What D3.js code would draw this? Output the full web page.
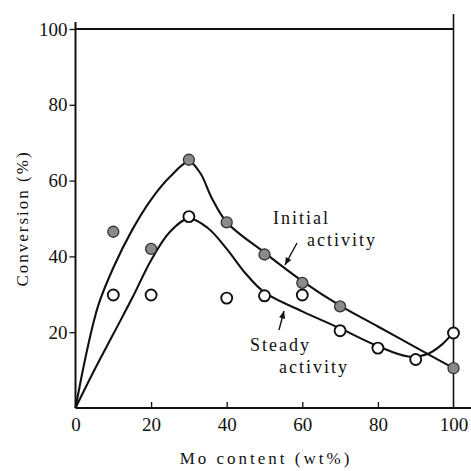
<!DOCTYPE html>
<html>
<head>
<meta charset="utf-8">
<script src="https://cdn.jsdelivr.net/npm/d3@7"></script>
</head>
<body style="margin:0">
<svg id="fig" width="471" height="471"></svg>
<script>
// measured points
const moContent   = [10, 20, 30, 40, 50, 60, 70, 80, 90, 100];
const initialPts  = [[10, 46.5], [20, 42], [30, 65.5], [40, 49], [50, 40.5], [60, 33], [70, 26.8], [100, 10.5]];
const steadyPts   = [[10, 29.8], [20, 29.8], [30, 50.5], [40, 29], [50, 29.6], [60, 29.8], [70, 20.4], [80, 15.8], [90, 12.8], [100, 19.8]];

// fitted curves (knots)
const initialCurve = [[0, 0], [3, 15], [6, 27], [10, 37], [15, 47], [20, 55], [25, 61], [30, 65], [33, 62], [36, 55.5], [40, 49], [50, 41], [60, 33.5], [70, 27], [80, 21.5], [90, 16], [100, 10.5]];
const steadyCurve  = [[0, 0], [5, 10], [10, 19.5], [15, 29], [20, 39], [25, 46.5], [30, 50], [35, 47.5], [40, 42], [45, 35.5], [50, 30.5], [60, 25.5], [70, 21], [80, 16.3], [88, 13.6], [93, 14.2], [97, 16.8], [100, 20]];

const xTicks = [0, 20, 40, 60, 80, 100];
const yTicks = [20, 40, 60, 80, 100];

const FONT = 'Liberation Serif';
const ink = '#111';

const svg = d3.select('#fig');
const x = d3.scaleLinear().domain([0, 100]).range([75.5, 453.5]);
const y = d3.scaleLinear().domain([0, 100]).range([408, 29]);

const serif = sel => sel.attr('font-family', FONT).style('font-family', FONT, 'important');

// ---- frame ----
svg.append('line').attr('x1', x(0)).attr('x2', x(0)).attr('y1', 22).attr('y2', y(0))
  .attr('stroke', ink).attr('stroke-width', 2);
svg.append('line').attr('x1', x(0)).attr('x2', 471).attr('y1', y(0)).attr('y2', y(0))
  .attr('stroke', ink).attr('stroke-width', 2);
svg.append('line').attr('x1', x(0)).attr('x2', x(100)).attr('y1', y(100)).attr('y2', y(100))
  .attr('stroke', ink).attr('stroke-width', 2);
svg.append('line').attr('x1', x(100)).attr('x2', x(100)).attr('y1', 14).attr('y2', y(0))
  .attr('stroke', ink).attr('stroke-width', 1.6);

// ---- y axis ticks ----
const yAxis = svg.append('g').attr('transform', `translate(${x(0)},0)`)
  .call(d3.axisLeft(y).tickValues(yTicks).tickSize(6).tickPadding(2).tickFormat(d3.format('d')));
yAxis.select('.domain').remove();
yAxis.selectAll('.tick line').attr('stroke', ink).attr('stroke-width', 1.3);
yAxis.selectAll('.tick text').attr('fill', ink).attr('font-size', 19).call(serif);

// ---- x axis ticks (inside) ----
const xAxis = svg.append('g').attr('transform', `translate(0,${y(0)})`)
  .call(d3.axisBottom(x).tickValues(xTicks).tickSizeInner(-6).tickSizeOuter(0).tickPadding(10).tickFormat(d3.format('d')));
xAxis.select('.domain').remove();
xAxis.selectAll('.tick line').attr('stroke', ink).attr('stroke-width', 1.3)
  .filter(d => d === 0 || d === 100).remove();
xAxis.selectAll('.tick text').attr('fill', ink).attr('font-size', 19).call(serif);

// ---- axis titles ----
svg.append('text')
  .attr('transform', `translate(28,${y(50)}) rotate(-90)`)
  .attr('text-anchor', 'middle')
  .attr('font-size', 17).attr('letter-spacing', 2)
  .attr('fill', ink).call(serif)
  .text('Conversion (%)');
svg.append('text')
  .attr('x', 266).attr('y', 464)
  .attr('text-anchor', 'middle')
  .attr('font-size', 17).attr('letter-spacing', 3)
  .attr('fill', ink).call(serif)
  .text('Mo content (wt%)');

// ---- curves ----
const line = d3.line().x(d => x(d[0])).y(d => y(d[1])).curve(d3.curveCatmullRom.alpha(0.5));
[initialCurve, steadyCurve].forEach(c => {
  svg.append('path').attr('d', line(c)).attr('fill', 'none')
    .attr('stroke', ink).attr('stroke-width', 2.1);
});

// ---- markers ----
svg.append('g').selectAll('circle').data(steadyPts).join('circle')
  .attr('cx', d => x(d[0])).attr('cy', d => y(d[1])).attr('r', 5.5)
  .attr('fill', '#fff').attr('stroke', ink).attr('stroke-width', 1.9);
svg.append('g').selectAll('circle').data(initialPts).join('circle')
  .attr('cx', d => x(d[0])).attr('cy', d => y(d[1])).attr('r', 5.5)
  .attr('fill', '#8a8a8a').attr('stroke', '#333').attr('stroke-width', 1.3);

// ---- annotations ----
const note = (txt, tx, ty) => svg.append('text').attr('x', tx).attr('y', ty)
  .attr('font-size', 18).attr('letter-spacing', 2)
  .attr('fill', ink).call(serif).text(txt);
note('Initial', 273, 224);
note('activity', 307, 246);
note('Steady', 250, 351);
note('activity', 279, 373);

const arrow = (x1, y1, x2, y2) => {
  svg.append('line').attr('x1', x1).attr('y1', y1).attr('x2', x2).attr('y2', y2)
    .attr('stroke', ink).attr('stroke-width', 1.4);
  const a = Math.atan2(y2 - y1, x2 - x1), L = 8, w = 0.4;
  svg.append('path')
    .attr('d', `M${x2},${y2}L${x2 - L * Math.cos(a - w)},${y2 - L * Math.sin(a - w)}L${x2 - L * Math.cos(a + w)},${y2 - L * Math.sin(a + w)}Z`)
    .attr('fill', ink);
};
arrow(297, 243, 285, 265);
arrow(279, 330, 284, 311);
</script>
</body>
</html>
